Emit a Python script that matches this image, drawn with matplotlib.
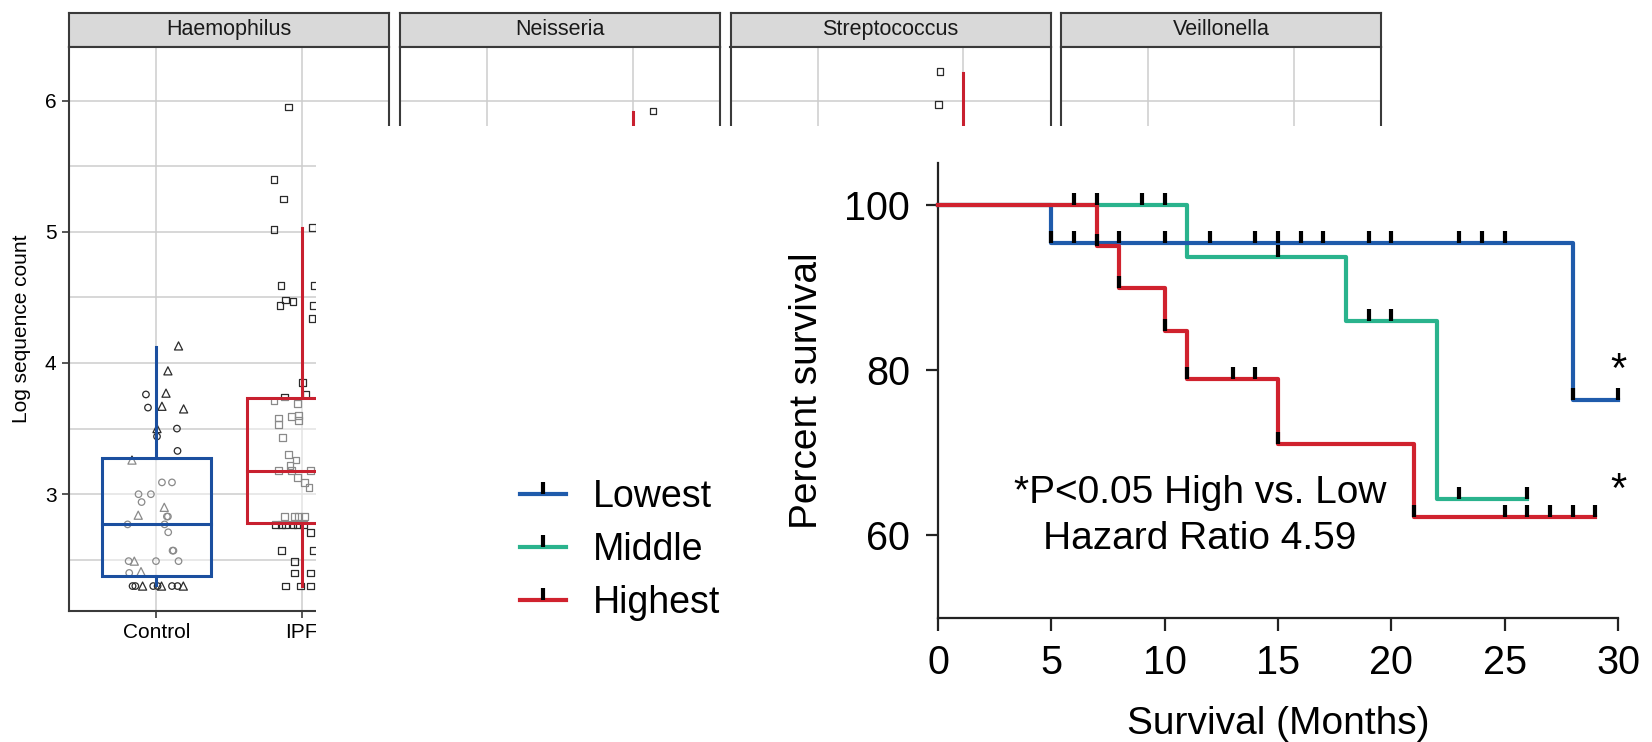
import numpy as np
import matplotlib
matplotlib.use("Agg")
import matplotlib.pyplot as plt
from matplotlib.lines import Line2D
from matplotlib.path import Path
from matplotlib.patches import Rectangle

plt.rcParams['font.family'] = ['Liberation Sans', 'DejaVu Sans']

# ---------------- lattice box plot (background figure) ----------------
panels = ['Haemophilus', 'Neisseria', 'Streptococcus', 'Veillonella']
groups = ['Control', 'IPF']

# Haemophilus, Control group (circles / triangles)
ctrl_circ_x = [0.929, 0.943, 1.142, 1.005, 1.146, 1.039, 1.108, 0.878, 0.963, 0.899,
               1.073, 1.080, 0.803, 1.057, 1.082, 1.112, 1.118, 0.810, 0.998, 1.153,
               0.814, 0.837, 0.856, 0.979, 1.009, 1.108, 1.146]
ctrl_circ_y = [3.76, 3.66, 3.50, 3.44, 3.33, 3.09, 3.09, 3.00, 3.00, 2.94,
               2.83, 2.83, 2.77, 2.77, 2.71, 2.57, 2.57, 2.49, 2.49, 2.49,
               2.40, 2.30, 2.30, 2.30, 2.30, 2.30, 2.30]
ctrl_tri_x = [1.153, 1.080, 1.067, 1.039, 1.188, 1.005, 0.833, 1.055, 0.876, 0.849,
              0.895, 0.906, 1.036, 1.186]
ctrl_tri_y = [4.13, 3.94, 3.77, 3.67, 3.65, 3.50, 3.26, 2.90, 2.84, 2.49,
              2.41, 2.30, 2.30, 2.30]

# Haemophilus, IPF group (squares)
ipf_sq_x = [1.909, 1.81, 1.875, 1.81, 2.075, 1.857, 2.09, 1.85, 1.89, 1.94, 2.08, 2.07,
            2.006, 2.03, 1.88, 1.81, 1.97, 1.84, 1.93, 1.98, 1.98, 1.84, 1.87, 1.91,
            1.96, 1.92, 1.84, 1.93, 2.06, 1.97, 2.02, 2.05,
            1.88, 1.95, 1.98, 2.02, 1.82, 1.86, 1.89, 1.94, 1.97, 2.01, 2.06, 1.86,
            2.08, 1.95, 1.95, 2.06, 1.89, 1.99, 2.06]
ipf_sq_y = [5.95, 5.40, 5.25, 5.02, 5.03, 4.59, 4.59, 4.44, 4.48, 4.47, 4.44, 4.34,
            3.85, 3.76, 3.74, 3.71, 3.69, 3.58, 3.59, 3.60, 3.56, 3.53, 3.43, 3.30,
            3.26, 3.22, 3.18, 3.18, 3.18, 3.13, 3.09, 3.05,
            2.83, 2.83, 2.83, 2.83, 2.77, 2.77, 2.77, 2.77, 2.77, 2.77, 2.71, 2.57,
            2.57, 2.49, 2.40, 2.40, 2.30, 2.30, 2.30]

# box stats: lower whisker, Q1, median, Q3, upper whisker
ctrl_box = [2.31, 2.378, 2.774, 3.279, 4.12]
ipf_box = [2.30, 2.779, 3.177, 3.731, 5.03]

# what is left visible of the other panels (IPF upper whisker + top points)
other_whisker_top = {'Neisseria': 5.91, 'Streptococcus': 6.21}
other_q3 = {'Neisseria': 3.9, 'Streptococcus': 4.2}
other_pts_x = {'Neisseria': [2.14], 'Streptococcus': [1.84, 1.83]}
other_pts_y = {'Neisseria': [5.92], 'Streptococcus': [6.22, 5.97]}

# ---------------- Kaplan-Meier data ----------------
km_labels = ['Lowest', 'Middle', 'Highest']
low_t = [0, 5, 28, 30]
low_s = [100, 95.45, 76.36, 76.36]
mid_t = [0, 11, 18, 22, 26]
mid_s = [100, 93.75, 85.94, 64.45, 64.45]
high_t = [0, 7, 8, 10, 11, 15, 21, 29]
high_s = [100, 95.0, 90.0, 84.7, 79.0, 71.1, 62.2, 62.2]
low_cens = [5, 6, 8, 10, 12, 14, 15, 16, 17, 19, 20, 23, 24, 25, 28, 30]
mid_cens = [6, 7, 9, 10, 15, 19, 20, 23, 26]
high_cens = [7, 8, 10, 11, 13, 14, 15, 21, 25, 26, 27, 28, 29]

W, H = 1652, 742
fig = plt.figure(figsize=(W / 100, H / 100), dpi=100)


def fa(left, top, w, h):
    return [left / W, 1 - (top + h) / H, w / W, h / H]


edge = '#3a3a3a'
blue_box = '#1b4f9f'
red_box = '#c8202f'
panel_left = [69, 400, 730.5, 1061]
for i, name in enumerate(panels):
    # strip
    st = fig.add_axes(fa(panel_left[i], 12.7, 320, 34))
    st.set_facecolor('#d9d9d9')
    st.set_xticks([])
    st.set_yticks([])
    for s in st.spines.values():
        s.set_color(edge)
        s.set_linewidth(1.5)
    st.text(0.5, 0.5, name, ha='center', va='center', fontsize=15.5, color='#1a1a1a')

    ax = fig.add_axes(fa(panel_left[i], 46.7, 320, 564.3))
    ax.set_xlim(0.4, 2.6)
    ax.set_ylim(2.11, 6.41)
    for g in np.arange(2.5, 6.01, 0.5):
        ax.axhline(g, color='#cdcdcd', lw=1.1, zorder=0)
    for g in [1, 2]:
        ax.axvline(g, color='#cdcdcd', lw=1.1, zorder=0)
    for s in ax.spines.values():
        s.set_color(edge)
        s.set_linewidth(1.5)
    ax.set_xticks([1, 2])
    ax.set_yticks([3, 4, 5, 6])
    ax.tick_params(length=5, width=1.2, color=edge, labelsize=15, pad=4)
    if i == 0:
        ax.set_xticklabels(groups)
        ax.set_ylabel('Log sequence count', fontsize=15, labelpad=10)
        ax.scatter(ctrl_circ_x, ctrl_circ_y, s=22, marker='o', facecolors='none',
                   edgecolors='#2b2b2b', linewidths=0.9, zorder=3)
        ax.scatter(ctrl_tri_x, ctrl_tri_y, s=34, marker='^', facecolors='none',
                   edgecolors='#2b2b2b', linewidths=0.9, zorder=3)
        ax.scatter(ipf_sq_x, ipf_sq_y, s=24, marker='s', facecolors='none',
                   edgecolors='#2b2b2b', linewidths=0.9, zorder=3)
        for pos, st_, col in [(1, ctrl_box, blue_box), (2, ipf_box, red_box)]:
            lo, q1, med, q3, hi = st_
            ax.add_patch(Rectangle((pos - 0.375, q1), 0.75, q3 - q1, facecolor='white',
                                   alpha=0.45, edgecolor='none', zorder=4))
            ax.add_patch(Rectangle((pos - 0.375, q1), 0.75, q3 - q1, facecolor='none',
                                   edgecolor=col, lw=2.2, zorder=5))
            ax.plot([pos - 0.375, pos + 0.375], [med, med], color=col, lw=2.2, zorder=5)
            ax.plot([pos, pos], [q3, hi], color=col, lw=2.2, zorder=5)
            ax.plot([pos, pos], [lo, q1], color=col, lw=2.2, zorder=5)
    else:
        ax.set_xticklabels([])
        ax.set_yticklabels([])
        ax.tick_params(left=False)
        if name in other_pts_x:
            ax.scatter(other_pts_x[name], other_pts_y[name], s=24, marker='s',
                       facecolors='none', edgecolors='#2b2b2b', linewidths=0.9, zorder=3)
            ax.plot([2, 2], [other_q3[name], other_whisker_top[name]], color=red_box,
                    lw=2.2, zorder=5)

# white cover over the lower right part
cover = fig.add_axes([316 / W, 0, 1 - 316 / W, 1 - 126 / H], zorder=5)
cover.set_facecolor('white')
cover.set_xticks([])
cover.set_yticks([])
for s in cover.spines.values():
    s.set_visible(False)

# ---------------- Kaplan-Meier plot ----------------
km = fig.add_axes(fa(938, 163, 680, 455), zorder=6)
km.patch.set_alpha(0)
colors = ['#1f5bab', '#2ab38d', '#d0222e']
tick_marker = Path([(0, 0), (0, 1)])


def surv_at(t, s, tc):
    idx = np.searchsorted(t, tc, side='right') - 1
    return np.array(s)[idx]


series = [(mid_t, mid_s, mid_cens, colors[1]),
          (low_t, low_s, low_cens, colors[0]),
          (high_t, high_s, high_cens, colors[2])]
for t, s, c, col in series:
    km.step(t, s, where='post', color=col, lw=3, clip_on=False, zorder=3)
for t, s, c, col in series:
    km.plot(c, surv_at(t, s, c), ls='none', marker=tick_marker, ms=17, mec='k',
            mew=3, clip_on=False, zorder=4)

km.set_xlim(0, 30)
km.set_ylim(50, 105.1)
km.set_xticks([0, 5, 10, 15, 20, 25, 30])
km.set_yticks([60, 80, 100])
for sp in ['top', 'right']:
    km.spines[sp].set_visible(False)
for sp in ['left', 'bottom']:
    km.spines[sp].set_linewidth(1.6)
    km.spines[sp].set_color('#222222')
km.tick_params(direction='out', length=9, width=1.6, color='#222222', labelsize=28.5)
km.tick_params(axis='y', pad=11)
km.tick_params(axis='x', pad=10)
km.set_xlabel('Survival (Months)', fontsize=28, labelpad=17)
km.set_ylabel('Percent survival', fontsize=28, labelpad=14)

km.text(11.56, 63.9, '*P<0.05 High vs. Low', fontsize=28, ha='center', va='baseline')
km.text(11.56, 58.4, 'Hazard Ratio 4.59', fontsize=28, ha='center', va='baseline')
km.text(30, 78.6, '*', fontsize=30, ha='center', va='baseline')
km.text(30, 64.1, '*', fontsize=30, ha='center', va='baseline')

handles = [Line2D([], [], color=col, lw=3, marker=tick_marker, ms=17, mec='k', mew=3)
           for col in colors]
km.legend(handles, km_labels, loc='center left', bbox_to_anchor=(520 / W, 1 - 550 / H),
          bbox_transform=fig.transFigure, frameon=False, fontsize=27,
          handlelength=1.23, handletextpad=0.72, labelspacing=0.46,
          borderpad=0, borderaxespad=0)

fig.savefig('out.png', dpi=100)
